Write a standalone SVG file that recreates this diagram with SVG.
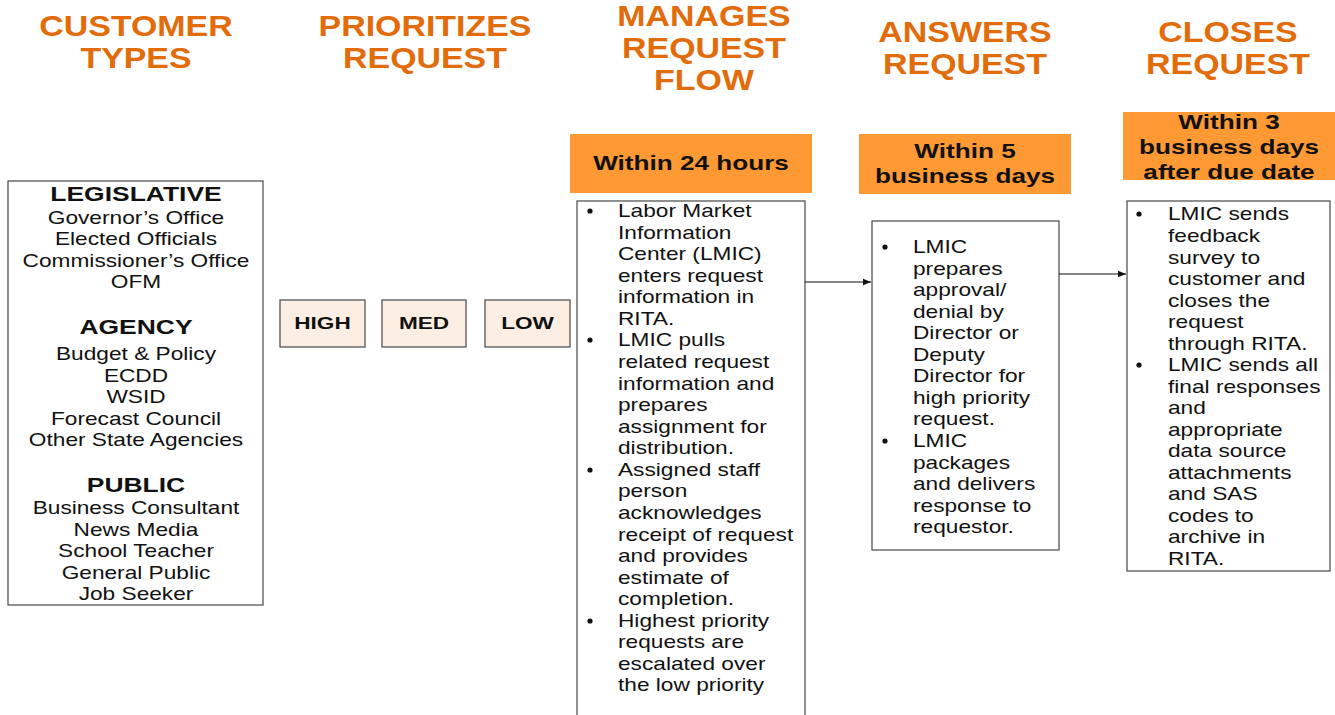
<svg xmlns="http://www.w3.org/2000/svg" width="1335" height="715" viewBox="0 0 1335 715">
  <style>
    .hdr { font-family: "Liberation Sans", Arial, sans-serif; font-weight: bold; font-size: 29.5px; fill: #E36C0A; text-anchor: middle; }
    .tag { fill: #FF9933; }
    .tagtxt { font-family: "Liberation Sans", Arial, sans-serif; font-weight: bold; font-size: 19.5px; fill: #111; text-anchor: middle; }
    .box { fill: #fff; stroke: #555; stroke-width: 1.3; }
    .pri { fill: #FDEEE3; stroke: #555; stroke-width: 1.3; }
    .pritxt { font-family: "Liberation Sans", Arial, sans-serif; font-weight: bold; font-size: 17px; fill: #111; text-anchor: middle; }
    .cat { font-family: "Liberation Sans", Arial, sans-serif; font-weight: bold; font-size: 21px; fill: #111; text-anchor: middle; }
    .item { font-family: "Liberation Sans", Arial, sans-serif; font-size: 18px; fill: #111; text-anchor: middle; }
    .body { font-family: "Liberation Sans", Arial, sans-serif; font-size: 18px; fill: #111; }
    .dot { fill: #111; }
    .conn { stroke: #111; stroke-width: 1.2; fill: none; marker-end: url(#arrow); }
  </style>
  <defs>
    <marker id="arrow" viewBox="0 0 10 10" refX="10" refY="5" markerWidth="8" markerHeight="8" markerUnits="userSpaceOnUse" orient="auto">
      <path d="M0,1 L10,5 L0,9 z" fill="#111"/>
    </marker>
  </defs>
  <rect width="1335" height="715" fill="#fff"/>

  <!-- column headings (lettering is set wide, hence the horizontal scale) -->
  <g id="headings">
    <g transform="translate(136 0) scale(1.15 1)">
      <text class="hdr" x="0" y="36">CUSTOMER</text>
      <text class="hdr" x="0" y="68">TYPES</text>
    </g>
    <g transform="translate(425 0) scale(1.15 1)">
      <text class="hdr" x="0" y="36">PRIORITIZES</text>
      <text class="hdr" x="0" y="68">REQUEST</text>
    </g>
    <g transform="translate(704 0) scale(1.15 1)">
      <text class="hdr" x="0" y="26">MANAGES</text>
      <text class="hdr" x="0" y="58">REQUEST</text>
      <text class="hdr" x="0" y="90">FLOW</text>
    </g>
    <g transform="translate(965 0) scale(1.15 1)">
      <text class="hdr" x="0" y="42">ANSWERS</text>
      <text class="hdr" x="0" y="74">REQUEST</text>
    </g>
    <g transform="translate(1228 0) scale(1.15 1)">
      <text class="hdr" x="0" y="42">CLOSES</text>
      <text class="hdr" x="0" y="74">REQUEST</text>
    </g>
  </g>

  <!-- time limits -->
  <g id="time-24h">
    <rect class="tag" x="570" y="134" width="242" height="59"/>
    <g transform="translate(691 0) scale(1.34 1)">
      <text class="tagtxt" x="0" y="170">Within 24 hours</text>
    </g>
  </g>
  <g id="time-5days">
    <rect class="tag" x="859" y="134" width="212" height="60"/>
    <g transform="translate(965 0) scale(1.34 1)">
      <text class="tagtxt" x="0" y="158">Within 5</text>
      <text class="tagtxt" x="0" y="183">business days</text>
    </g>
  </g>
  <g id="time-3days">
    <rect class="tag" x="1123" y="112" width="212" height="68"/>
    <g transform="translate(1229 0) scale(1.34 1)">
      <text class="tagtxt" x="0" y="129">Within 3</text>
      <text class="tagtxt" x="0" y="154">business days</text>
      <text class="tagtxt" x="0" y="179">after due date</text>
    </g>
  </g>

  <!-- customer types -->
  <g id="customer-types">
    <rect class="box" x="8" y="181" width="255" height="424"/>
    <g transform="translate(136 0) scale(1.26 1)">
      <text class="cat" x="0" y="201">LEGISLATIVE</text>
      <text class="item" x="0" y="224">Governor’s Office</text>
      <text class="item" x="0" y="245">Elected Officials</text>
      <text class="item" x="0" y="267">Commissioner’s Office</text>
      <text class="item" x="0" y="288">OFM</text>
      <text class="cat" x="0" y="334">AGENCY</text>
      <text class="item" x="0" y="360">Budget &amp; Policy</text>
      <text class="item" x="0" y="382">ECDD</text>
      <text class="item" x="0" y="403">WSID</text>
      <text class="item" x="0" y="425">Forecast Council</text>
      <text class="item" x="0" y="446">Other State Agencies</text>
      <text class="cat" x="0" y="492">PUBLIC</text>
      <text class="item" x="0" y="514">Business Consultant</text>
      <text class="item" x="0" y="536">News Media</text>
      <text class="item" x="0" y="557">School Teacher</text>
      <text class="item" x="0" y="579">General Public</text>
      <text class="item" x="0" y="600">Job Seeker</text>
    </g>
  </g>

  <!-- priority levels -->
  <g id="priority-high">
    <rect class="pri" x="280" y="300" width="85" height="47"/>
    <text class="pritxt" transform="translate(322.5 0) scale(1.33 1)" x="0" y="329">HIGH</text>
  </g>
  <g id="priority-med">
    <rect class="pri" x="382" y="300" width="84" height="47"/>
    <text class="pritxt" transform="translate(424 0) scale(1.33 1)" x="0" y="329">MED</text>
  </g>
  <g id="priority-low">
    <rect class="pri" x="485" y="300" width="85" height="47"/>
    <text class="pritxt" transform="translate(527.5 0) scale(1.33 1)" x="0" y="329">LOW</text>
  </g>

  <!-- request flow steps -->
  <g id="manage-flow">
    <rect class="box" x="577" y="201" width="228" height="520"/>
    <circle class="dot" cx="590" cy="211" r="2.6"/>
    <circle class="dot" cx="590" cy="340" r="2.6"/>
    <circle class="dot" cx="590" cy="470" r="2.6"/>
    <circle class="dot" cx="590" cy="621" r="2.6"/>
    <g transform="translate(618 0) scale(1.26 1)">
      <text class="body" x="0" y="217">Labor Market</text>
      <text class="body" x="0" y="239">Information</text>
      <text class="body" x="0" y="260">Center (LMIC)</text>
      <text class="body" x="0" y="282">enters request</text>
      <text class="body" x="0" y="303">information in</text>
      <text class="body" x="0" y="325">RITA.</text>
      <text class="body" x="0" y="346">LMIC pulls</text>
      <text class="body" x="0" y="368">related request</text>
      <text class="body" x="0" y="390">information and</text>
      <text class="body" x="0" y="411">prepares</text>
      <text class="body" x="0" y="433">assignment for</text>
      <text class="body" x="0" y="454">distribution.</text>
      <text class="body" x="0" y="476">Assigned staff</text>
      <text class="body" x="0" y="497">person</text>
      <text class="body" x="0" y="519">acknowledges</text>
      <text class="body" x="0" y="541">receipt of request</text>
      <text class="body" x="0" y="562">and provides</text>
      <text class="body" x="0" y="584">estimate of</text>
      <text class="body" x="0" y="605">completion.</text>
      <text class="body" x="0" y="627">Highest priority</text>
      <text class="body" x="0" y="648">requests are</text>
      <text class="body" x="0" y="670">escalated over</text>
      <text class="body" x="0" y="691">the low priority</text>
    </g>
  </g>

  <g id="answer-request">
    <rect class="box" x="872" y="221" width="187" height="329"/>
    <circle class="dot" cx="885" cy="247" r="2.6"/>
    <circle class="dot" cx="885" cy="441" r="2.6"/>
    <g transform="translate(913 0) scale(1.26 1)">
      <text class="body" x="0" y="253">LMIC</text>
      <text class="body" x="0" y="275">prepares</text>
      <text class="body" x="0" y="296">approval/</text>
      <text class="body" x="0" y="318">denial by</text>
      <text class="body" x="0" y="339">Director or</text>
      <text class="body" x="0" y="361">Deputy</text>
      <text class="body" x="0" y="382">Director for</text>
      <text class="body" x="0" y="404">high priority</text>
      <text class="body" x="0" y="425">request.</text>
      <text class="body" x="0" y="447">LMIC</text>
      <text class="body" x="0" y="469">packages</text>
      <text class="body" x="0" y="490">and delivers</text>
      <text class="body" x="0" y="512">response to</text>
      <text class="body" x="0" y="533">requestor.</text>
    </g>
  </g>

  <g id="close-request">
    <rect class="box" x="1127" y="201" width="203" height="370"/>
    <circle class="dot" cx="1139" cy="214" r="2.6"/>
    <circle class="dot" cx="1139" cy="365" r="2.6"/>
    <g transform="translate(1168 0) scale(1.26 1)">
      <text class="body" x="0" y="220">LMIC sends</text>
      <text class="body" x="0" y="242">feedback</text>
      <text class="body" x="0" y="264">survey to</text>
      <text class="body" x="0" y="285">customer and</text>
      <text class="body" x="0" y="307">closes the</text>
      <text class="body" x="0" y="328">request</text>
      <text class="body" x="0" y="350">through RITA.</text>
      <text class="body" x="0" y="371">LMIC sends all</text>
      <text class="body" x="0" y="393">final responses</text>
      <text class="body" x="0" y="414">and</text>
      <text class="body" x="0" y="436">appropriate</text>
      <text class="body" x="0" y="457">data source</text>
      <text class="body" x="0" y="479">attachments</text>
      <text class="body" x="0" y="500">and SAS</text>
      <text class="body" x="0" y="522">codes to</text>
      <text class="body" x="0" y="543">archive in</text>
      <text class="body" x="0" y="565">RITA.</text>
    </g>
  </g>

  <!-- connectors -->
  <g id="connectors">
    <line class="conn" x1="805" y1="282" x2="871" y2="282"/>
    <line class="conn" x1="1059" y1="274" x2="1126" y2="274"/>
  </g>
</svg>
